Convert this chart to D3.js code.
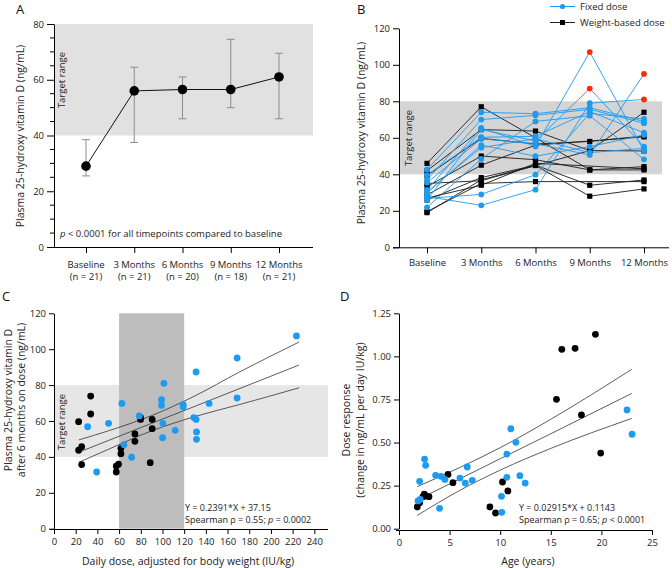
<!DOCTYPE html>
<html><head><meta charset="utf-8">
<script src="https://cdn.jsdelivr.net/npm/d3@7"></script>
<style>
body{margin:0;background:#fff;}
svg{display:block;font-family:"Open Sans",sans-serif;}
</style></head>
<body><svg id="c" width="672" height="568"></svg>
<script>
// ---------- DATA ----------
// Panel A
const timepointsA = ["Baseline","3 Months","6 Months","9 Months","12 Months"];
const nCountsA = [21,21,20,18,21];
const meanA = [29, 56, 56.5, 56.5, 61];
const lowA  = [25.5, 37.5, 46, 50, 46];
const highA = [38.5, 64.5, 61, 74.5, 69.5];
const yTicksA = [0,20,40,60,80];

// Panel B (individual trajectories, null = missing)
const timepointsB = ["Baseline","3 Months","6 Months","9 Months","12 Months"];
const fixedDose = [
  [27.8, 23, 31.6, 79, 81],
  [26.8, 29, 39.8, 73.4, 70.3],
  [42.7, 74, 73.2, 76.5, 69],
  [36.9, 70, 72.3, 75.6, 68],
  [31.4, 65.4, 55.3, 107, 52.8],
  [25.9, 64.5, 58.3, 87, 55.2],
  [39.6, 60.3, 60.8, 74.3, 62.8],
  [35.4, 59.4, 56.8, 50.6, 95],
  [29.6, 56, 49.9, 55.2, 61.6],
  [30.5, 54.6, 59.5, 51.9, 54.2],
  [21.9, 48.4, 69, 72.1, 48.2]
];
const weightDose = [
  [46, 77, 60, 42.4, 44.2],
  [42, 64.5, 63.7, 53, 74],
  [39.3, 59.7, 56.6, 58, 61],
  [33.2, 50, 48, 42.4, 42.4],
  [28.7, 45, 56, null, 60.5],
  [25.9, 38.2, 45, 34, 36.9],
  [19, 37, 44.8, 28, 32],
  [19.5, 35, 36, null, 36],
  [27, 34, 46, null, 43],
  [35, 36.5, null, 53, 52.8]
];
const yTicksB = [0,20,40,60,80,100,120];
const targetRange = [40, 80];

// Panel C
const doseFixedX = [31,50.3,39.3,62.6,64.5,71.5,78.6,99.1,99.1,101.3,100.4,100.1,111.7,119.1,119.1,128.9,131,131,131.4,131.4,143,168.8,168.8,223.5];
const doseFixedY = [56.8,58.7,31.6,69.8,46.8,39.8,62.8,71.9,68.7,81,58.7,50.7,54.8,69.1,68,61.9,60.9,87.3,53.9,49.8,69.8,95.1,72.8,107.4];
const doseWeightX = [22.7,33.8,33.8,22.7,25.5,25.5,57.4,59.5,57.4,61.7,61.7,74.6,74.6,79.8,79.8,90.5,90.5,88.7];
const doseWeightY = [59.6,73.9,63.9,43.7,45.7,35.7,34.9,35.9,31.6,44.8,41.8,52.8,48.7,61.9,60.9,60.9,55.7,36.8];
const fitCx  = [23, 50, 90, 130, 170, 226];
const fitCy  = [42.65, 49.1, 58.7, 68.2, 77.8, 91.2];
const fitChi = [49.5, 54.5, 63, 74, 87, 104];
const fitClo = [37, 44.2, 54.5, 62.5, 69, 78.5];
const xTicksC = [0,20,40,60,80,100,120,140,160,180,200,220,240];
const doseRange = [60, 120];

// Panel D
const ageFixedX = [1.88,2.04,2.53,2.63,3.62,4.14,4.01,4.54,6.02,6.55,6.74,7.24,10.13,10.16,10.66,10.66,11.05,11.55,11.94,12.47,22.53,23.03,2.1];
const ageFixedY = [0.161,0.275,0.404,0.368,0.31,0.304,0.118,0.286,0.294,0.265,0.358,0.281,0.188,0.095,0.433,0.298,0.58,0.501,0.308,0.265,0.689,0.548,0.17];
const ageWeightX = [1.81,2.04,2.5,2.37,2.63,2.96,4.84,5.33,8.98,9.54,10.23,10.76,15.56,16.09,17.4,18.03,19.41,19.93];
const ageWeightY = [0.126,0.151,0.201,0.186,0.19,0.186,0.315,0.267,0.126,0.091,0.271,0.219,0.751,1.041,1.047,0.66,1.128,0.439];
const fitDx  = [1.8, 6, 10, 15, 23];
const fitDy  = [0.167, 0.289, 0.406, 0.551, 0.785];
const fitDhi = [0.244, 0.355, 0.47, 0.635, 0.925];
const fitDlo = [0.077, 0.222, 0.34, 0.466, 0.64];
const yTicksD = [0, 0.25, 0.5, 0.75, 1.0, 1.25];
const xTicksD = [0,5,10,15,20,25];

// ---------- STYLE ----------
const BLUE = "#1d9bf0", RED = "#ff2a0a", BLACK = "#000";
const TICK_FS = 9.5, TITLE_FS = 10.5, EQ_FS = 9;

const svg = d3.select("#c");

function styleAxis(g){
  g.selectAll("path.domain").attr("stroke","#000").attr("stroke-width",1);
  g.selectAll(".tick line").attr("stroke","#000");
  g.selectAll(".tick text").attr("font-size",TICK_FS).attr("fill","#222").attr("font-family","Open Sans");
}
function vtext(x,y,str,size){
  return svg.append("text").attr("transform",`translate(${x},${y}) rotate(-90)`)
    .attr("text-anchor","middle").attr("dy","0.35em").attr("font-size",size).attr("fill","#222").text(str);
}
function letter(x,y,s){
  svg.append("text").attr("x",x).attr("y",y).attr("font-size",13).attr("fill","#111").text(s);
}

// ================= PANEL A =================
{
  const x = d3.scalePoint().domain(timepointsA).range([86,279]);
  const y = d3.scaleLinear().domain([0,80]).range([247,24]);
  svg.append("rect").attr("x",54).attr("width",313-54)
    .attr("y",y(targetRange[1])).attr("height",y(targetRange[0])-y(targetRange[1])).attr("fill","#e1e1e1");
  const gy = svg.append("g").attr("transform","translate(54,0)")
    .call(d3.axisLeft(y).tickValues(yTicksA).tickSize(7).tickSizeOuter(0).tickPadding(3));
  styleAxis(gy);
  // minor ticks
  svg.append("g").selectAll("line").data(d3.range(0,81,5).filter(v=>v%20)).join("line")
    .attr("x1",50).attr("x2",54).attr("y1",d=>y(d)).attr("y2",d=>y(d)).attr("stroke","#000");
  const gx = svg.append("g").attr("transform","translate(0,247)")
    .call(d3.axisBottom(x).tickSize(6).tickFormat(""));
  gx.select("path.domain").attr("d","M47,0.5H313");
  styleAxis(gx);
  const lab = svg.append("g").selectAll("text").data(timepointsA).join("text")
    .attr("x",d=>x(d)).attr("y",268).attr("text-anchor","middle").attr("font-size",TICK_FS).attr("fill","#222");
  lab.append("tspan").attr("x",d=>x(d)).text(d=>d);
  lab.append("tspan").attr("x",d=>x(d)).attr("dy",11.5).text((d,i)=>`(n = ${nCountsA[i]})`);
  // error bars
  const eb = svg.append("g").attr("stroke","#8c8c8c").attr("stroke-width",1);
  timepointsA.forEach((t,i)=>{
    eb.append("line").attr("x1",x(t)).attr("x2",x(t)).attr("y1",y(lowA[i])).attr("y2",y(highA[i]));
    eb.append("line").attr("x1",x(t)-4).attr("x2",x(t)+4).attr("y1",y(lowA[i])).attr("y2",y(lowA[i]));
    eb.append("line").attr("x1",x(t)-4).attr("x2",x(t)+4).attr("y1",y(highA[i])).attr("y2",y(highA[i]));
  });
  svg.append("path").datum(meanA).attr("fill","none").attr("stroke","#111").attr("stroke-width",1)
    .attr("d",d3.line().x((d,i)=>x(timepointsA[i])).y(d=>y(d)));
  svg.append("g").selectAll("circle").data(meanA).join("circle")
    .attr("cx",(d,i)=>x(timepointsA[i])).attr("cy",d=>y(d)).attr("r",4.8).attr("fill","#000");
  vtext(62,80,"Target range",TICK_FS);
  vtext(20,136,"Plasma 25-hydroxy vitamin D (ng/mL)",TITLE_FS);
  const pt = svg.append("text").attr("x",60).attr("y",236.5).attr("font-size",TICK_FS).attr("fill","#222");
  pt.append("tspan").attr("font-style","italic").text("p");
  pt.append("tspan").text(" < 0.0001 for all timepoints compared to baseline");
  letter(16,14,"A");
}

// ================= PANEL B =================
{
  const x = d3.scalePoint().domain(timepointsB).range([427,644]);
  const y = d3.scaleLinear().domain([0,120]).range([247.3,28.3]);
  svg.append("rect").attr("x",399).attr("width",662-399)
    .attr("y",y(targetRange[1])).attr("height",y(targetRange[0])-y(targetRange[1])).attr("fill","#d4d4d4");
  const gy = svg.append("g").attr("transform","translate(399,0)")
    .call(d3.axisLeft(y).tickValues(yTicksB).tickSize(6).tickSizeOuter(0).tickPadding(3));
  styleAxis(gy);
  const gx = svg.append("g").attr("transform","translate(0,247.3)")
    .call(d3.axisBottom(x).tickSize(6).tickPadding(6));
  gx.select("path.domain").attr("d","M393,0.5H669");
  styleAxis(gx);
  vtext(409,138,"Target range",TICK_FS);
  vtext(361,133,"Plasma 25-hydroxy vitamin D (ng/mL)",TITLE_FS);

  const pts = arr => arr.map((v,i)=>({t:timepointsB[i],v})).filter(p=>p.v!=null);
  const line = d3.line().x(p=>x(p.t)).y(p=>y(p.v));
  const gB = svg.append("g");
  weightDose.forEach(s=>{
    gB.append("path").datum(pts(s)).attr("d",line).attr("fill","none").attr("stroke","#1a1a1a").attr("stroke-width",0.9);
  });
  fixedDose.forEach(s=>{
    gB.append("path").datum(pts(s)).attr("d",line).attr("fill","none").attr("stroke",BLUE).attr("stroke-width",0.9);
  });
  weightDose.forEach(s=>{
    gB.append("g").selectAll("rect").data(pts(s)).join("rect")
      .attr("x",p=>x(p.t)-2.6).attr("y",p=>y(p.v)-2.6).attr("width",5.2).attr("height",5.2).attr("fill","#000");
  });
  fixedDose.forEach(s=>{
    gB.append("g").selectAll("circle").data(pts(s)).join("circle")
      .attr("cx",p=>x(p.t)).attr("cy",p=>y(p.v)).attr("r",2.9)
      .attr("fill",p=>p.v>targetRange[1]?RED:BLUE);
  });
  // legend
  const lg = svg.append("g");
  lg.append("line").attr("x1",550).attr("x2",575).attr("y1",6.5).attr("y2",6.5).attr("stroke",BLUE);
  lg.append("circle").attr("cx",562.5).attr("cy",6.5).attr("r",2.6).attr("fill",BLUE);
  lg.append("text").attr("x",580).attr("y",10).attr("font-size",TICK_FS).attr("fill","#222").text("Fixed dose");
  lg.append("line").attr("x1",550).attr("x2",575).attr("y1",22.5).attr("y2",22.5).attr("stroke","#222");
  lg.append("rect").attr("x",560).attr("y",20).attr("width",5).attr("height",5).attr("fill","#000");
  lg.append("text").attr("x",580).attr("y",26).attr("font-size",TICK_FS).attr("fill","#222").text("Weight-based dose");
  letter(357,14,"B");
}

// ================= PANEL C =================
{
  const x = d3.scaleLinear().domain([0,252.6]).range([54,328]);
  const y = d3.scaleLinear().domain([0,120]).range([528.7,313.3]);
  svg.append("rect").attr("x",54).attr("width",328-54)
    .attr("y",y(targetRange[1])).attr("height",y(targetRange[0])-y(targetRange[1])).attr("fill","#e6e6e6");
  svg.append("rect").attr("x",x(doseRange[0])).attr("width",x(doseRange[1])-x(doseRange[0]))
    .attr("y",y(120)).attr("height",y(0)-y(120)).attr("fill","#bdbdbd");
  const gy = svg.append("g").attr("transform","translate(54,0)")
    .call(d3.axisLeft(y).tickValues(yTicksB).tickSize(5).tickSizeOuter(0).tickPadding(3));
  styleAxis(gy);
  const gx = svg.append("g").attr("transform","translate(0,529)")
    .call(d3.axisBottom(x).tickValues(xTicksC).tickSize(5).tickSizeOuter(0).tickPadding(4));
  gx.select("path.domain").attr("d","M50,0.5H328");
  styleAxis(gx);
  vtext(62,422,"Target range",TICK_FS);
  vtext(8,400,"Plasma 25-hydroxy vitamin D",TITLE_FS);
  vtext(21,400,"after 6 months on dose (ng/mL)",TITLE_FS);
  svg.append("text").attr("x",188).attr("y",565).attr("text-anchor","middle").attr("font-size",TITLE_FS)
    .attr("fill","#222").text("Daily dose, adjusted for body weight (IU/kg)");
  const ln = (xs,ys)=>d3.line().curve(d3.curveMonotoneX)(xs.map((v,i)=>[x(v),y(ys[i])]));
  [fitChi, fitCy, fitClo].forEach(arr=>{
    svg.append("path").attr("d",ln(fitCx,arr)).attr("fill","none").attr("stroke","#333").attr("stroke-width",0.8);
  });
  svg.append("g").selectAll("circle").data(doseWeightX).join("circle")
    .attr("cx",d=>x(d)).attr("cy",(d,i)=>y(doseWeightY[i])).attr("r",3.4).attr("fill","#000");
  svg.append("g").selectAll("circle").data(doseFixedX).join("circle")
    .attr("cx",d=>x(d)).attr("cy",(d,i)=>y(doseFixedY[i])).attr("r",3.4).attr("fill",BLUE);
  svg.append("text").attr("x",185).attr("y",511).attr("font-size",EQ_FS).attr("fill","#222").text("Y = 0.2391*X + 37.15");
  const t2 = svg.append("text").attr("x",185).attr("y",523).attr("font-size",EQ_FS).attr("fill","#222");
  t2.append("tspan").text("Spearman ρ = 0.55; ");
  t2.append("tspan").attr("font-style","italic").text("p");
  t2.append("tspan").text(" = 0.0002");
  letter(2,301,"C");
}

// ================= PANEL D =================
{
  const x = d3.scaleLinear().domain([0,25]).range([399,652]);
  const y = d3.scaleLinear().domain([0,1.25]).range([528.7,313.3]);
  const gy = svg.append("g").attr("transform","translate(399,0)")
    .call(d3.axisLeft(y).tickValues(yTicksD).tickFormat(d3.format(".2f")).tickSize(5).tickSizeOuter(0).tickPadding(3));
  styleAxis(gy);
  const gx = svg.append("g").attr("transform","translate(0,530)")
    .call(d3.axisBottom(x).tickValues(xTicksD).tickSize(5).tickSizeOuter(0).tickPadding(4));
  gx.select("path.domain").attr("d","M396,0.5H653");
  styleAxis(gx);
  vtext(346,420,"Dose response",TITLE_FS);
  vtext(360,420,"(change in ng/mL per day IU/kg)",TITLE_FS);
  svg.append("text").attr("x",528).attr("y",565).attr("text-anchor","middle").attr("font-size",TITLE_FS)
    .attr("fill","#222").text("Age (years)");
  const ln = (xs,ys)=>d3.line().curve(d3.curveMonotoneX)(xs.map((v,i)=>[x(v),y(ys[i])]));
  [fitDhi, fitDy, fitDlo].forEach(arr=>{
    svg.append("path").attr("d",ln(fitDx,arr)).attr("fill","none").attr("stroke","#333").attr("stroke-width",0.8);
  });
  svg.append("g").selectAll("circle").data(ageWeightX).join("circle")
    .attr("cx",d=>x(d)).attr("cy",(d,i)=>y(ageWeightY[i])).attr("r",3.4).attr("fill","#000");
  svg.append("g").selectAll("circle").data(ageFixedX).join("circle")
    .attr("cx",d=>x(d)).attr("cy",(d,i)=>y(ageFixedY[i])).attr("r",3.4).attr("fill",BLUE);
  svg.append("text").attr("x",519).attr("y",511).attr("font-size",EQ_FS).attr("fill","#222").text("Y = 0.02915*X + 0.1143");
  const t2 = svg.append("text").attr("x",519).attr("y",523).attr("font-size",EQ_FS).attr("fill","#222");
  t2.append("tspan").text("Spearman ρ = 0.65; ");
  t2.append("tspan").attr("font-style","italic").text("p");
  t2.append("tspan").text(" < 0.0001");
  letter(340,301,"D");
}
</script></body></html>
